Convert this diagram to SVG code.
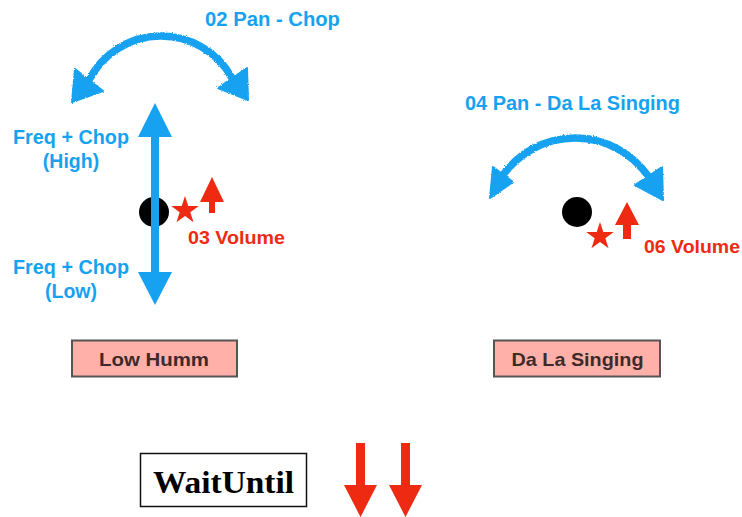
<svg xmlns="http://www.w3.org/2000/svg" width="742" height="517" viewBox="0 0 742 517">
  <defs>
    <style>
      .lbl { font-family: "Liberation Sans", Arial, Helvetica, sans-serif; font-weight: bold; }
      .blue { fill: #16a2f0; }
      .red { fill: #ee2a12; }
      .arc { fill: none; stroke: #16a2f0; stroke-width: 7.5; stroke-linecap: round; }
      .box { fill: #ffb0a9; stroke: #555555; stroke-width: 2; }
      .boxtxt { fill: #3d2b2b; font-size: 19px; }
      .vol { font-size: 18.5px; }
      .note { font-size: 19.5px; }
    </style>
    <!-- rough marker texture for the hand-drawn pan arcs -->
    <filter id="rough" x="-10%" y="-10%" width="120%" height="120%">
      <feTurbulence type="fractalNoise" baseFrequency="0.9" numOctaves="2" seed="3" result="noise"/>
      <feDisplacementMap in="SourceGraphic" in2="noise" scale="2.5" xChannelSelector="R" yChannelSelector="G"/>
    </filter>
    <polygon id="star" points="0,-14.5 3.29,-4.53 13.79,-4.48 5.33,1.73 8.53,11.73 0,5.6 -8.53,11.73 -5.33,1.73 -13.79,-4.48 -3.29,-4.53"/>
  </defs>

  <rect width="742" height="517" fill="#ffffff"/>

  <!-- Low Humm source -->
  <g id="low-humm-source">
    <circle cx="154" cy="212" r="15" fill="#000000"/>
    <use href="#star" x="185" y="210.5" class="red"/>
  </g>

  <!-- Da La Singing source -->
  <g id="dala-source">
    <circle cx="577" cy="212" r="15" fill="#000000"/>
    <use href="#star" x="600" y="236.5" class="red"/>
  </g>

  <g id="connectors">
    <!-- 02 pan arc -->
    <g filter="url(#rough)">
      <path class="arc" d="M89,80 A81,81 0 0 1 232,78"/>
      <polygon class="blue" points="75,69 103,91 72,102" stroke="#16a2f0" stroke-width="2" stroke-linejoin="round"/>
      <polygon class="blue" points="247,68 218,88 248,100" stroke="#16a2f0" stroke-width="2" stroke-linejoin="round"/>
    </g>
    <!-- 04 pan arc -->
    <g filter="url(#rough)">
      <path class="arc" d="M503,175 A89,89 0 0 1 648,176"/>
      <polygon class="blue" points="493,167 513,182 490,198" stroke="#16a2f0" stroke-width="2" stroke-linejoin="round"/>
      <polygon class="blue" points="662,167 635,185 663,200" stroke="#16a2f0" stroke-width="2" stroke-linejoin="round"/>
    </g>
    <!-- frequency / chop axis -->
    <rect x="151" y="130" width="8" height="150" class="blue"/>
    <polygon class="blue" points="155,103 172,137 138,137"/>
    <polygon class="blue" points="155,305 172,272 138,272"/>
    <!-- volume arrows -->
    <polygon class="red" points="212,177 224,202 215,202 215,213 209,213 209,202 200,202"/>
    <polygon class="red" points="627,202 639,225 631,225 631,239 623,239 623,225 615,225"/>
    <polygon class="red" points="356,443 365,443 365,485 377,485 360.5,517 344,485 356,485"/>
    <polygon class="red" points="401,443 410,443 410,485 422,485 405.5,517 389,485 401,485"/>
  </g>

  <!-- labels -->
  <g id="labels" class="lbl">
    <text x="205" y="26" class="blue note" textLength="135" lengthAdjust="spacingAndGlyphs">02 Pan - Chop</text>
    <text x="13" y="144" class="blue note" textLength="116" lengthAdjust="spacingAndGlyphs">Freq + Chop</text>
    <text x="71" y="168" class="blue note" text-anchor="middle">(High)</text>
    <text x="13" y="273.5" class="blue note" textLength="116" lengthAdjust="spacingAndGlyphs">Freq + Chop</text>
    <text x="71" y="298" class="blue note" text-anchor="middle">(Low)</text>
    <text x="188" y="244" class="red vol" textLength="97" lengthAdjust="spacingAndGlyphs">03 Volume</text>
    <text x="465" y="110" class="blue note" textLength="215" lengthAdjust="spacingAndGlyphs">04 Pan - Da La Singing</text>
    <text x="644" y="253" class="red vol" textLength="96" lengthAdjust="spacingAndGlyphs">06 Volume</text>
  </g>

  <g id="node-low-humm">
    <rect x="72" y="340.5" width="165" height="36" class="box"/>
    <text x="99" y="366" class="lbl boxtxt" textLength="110" lengthAdjust="spacingAndGlyphs">Low Humm</text>
  </g>

  <g id="node-dala-singing">
    <rect x="494" y="340.5" width="166" height="36" class="box"/>
    <text x="511.5" y="366" class="lbl boxtxt" textLength="132" lengthAdjust="spacingAndGlyphs">Da La Singing</text>
  </g>

  <g id="node-waituntil">
    <rect x="140.5" y="453.5" width="166" height="53" fill="#ffffff" stroke="#111111" stroke-width="1.5"/>
    <text x="153" y="493" font-family="'Liberation Serif', 'Times New Roman', serif" font-weight="bold" font-size="32" fill="#000000" textLength="141" lengthAdjust="spacingAndGlyphs">WaitUntil</text>
  </g>
</svg>
